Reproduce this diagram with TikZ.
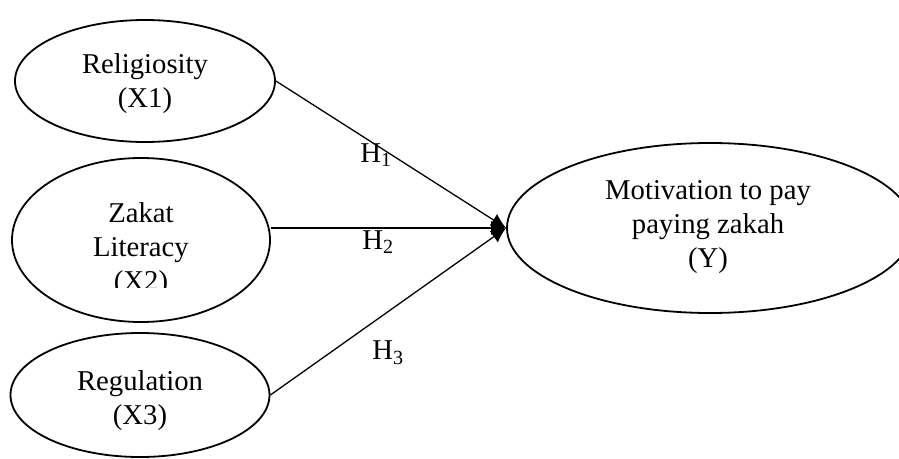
\documentclass[tikz,border=0pt]{standalone}
\usepackage{fontspec}
\setmainfont{Liberation Serif}
\usetikzlibrary{shapes.geometric,arrows.meta}
\begin{document}
\begin{tikzpicture}[x=1pt, y=-1pt,
    varbox/.style={ellipse, draw, line width=1.8pt, inner sep=0pt},
    vartext/.style={align=center, inner sep=0pt, font=\fontsize{28.7}{34}\selectfont},
    hyparrow/.style={line width=1.3pt, -{Latex[length=15pt,width=14pt]}},
    hyplabel/.style={inner sep=0pt, font=\fontsize{28.7}{34}\selectfont}]
    \useasboundingbox (0,0) rectangle (899,458);

    % variables
    \node[varbox, minimum width=260pt, minimum height=122pt] (x1) at (145,81) {};
    \node[varbox, minimum width=258pt, minimum height=164pt] (x2) at (141,240) {};
    \node[varbox, minimum width=259pt, minimum height=124pt] (x3) at (140,395) {};
    \node[varbox, minimum width=406pt, minimum height=170pt] (y) at (710,228) {};

    \node[vartext] (x1text) at (145,84) {Religiosity\\(X1)};
    \node[vartext] (x3text) at (140,401) {Regulation\\(X3)};
    \node[vartext] (ytext) at (708,227) {Motivation to pay\\paying zakah\\(Y)};

    % text of X2, cut off at the bottom
    \begin{scope}
        \clip (0,0) rectangle (899,287);
        \node[vartext] (x2text) at (141,250) {Zakat\\Literacy\\(X2)};
    \end{scope}

    % hypotheses
    \draw[hyparrow] (x1.east) -- (y.west);
    \draw[hyparrow] (x2.east |- y.west) -- (y.west);
    \draw[hyparrow] (x3.east) -- (y.west);

    \node[hyplabel] (h1) at (376,155) {H\textsubscript{1}};
    \node[hyplabel] (h2) at (378,242) {H\textsubscript{2}};
    \node[hyplabel] (h3) at (388,353) {H\textsubscript{3}};
\end{tikzpicture}
\end{document}
